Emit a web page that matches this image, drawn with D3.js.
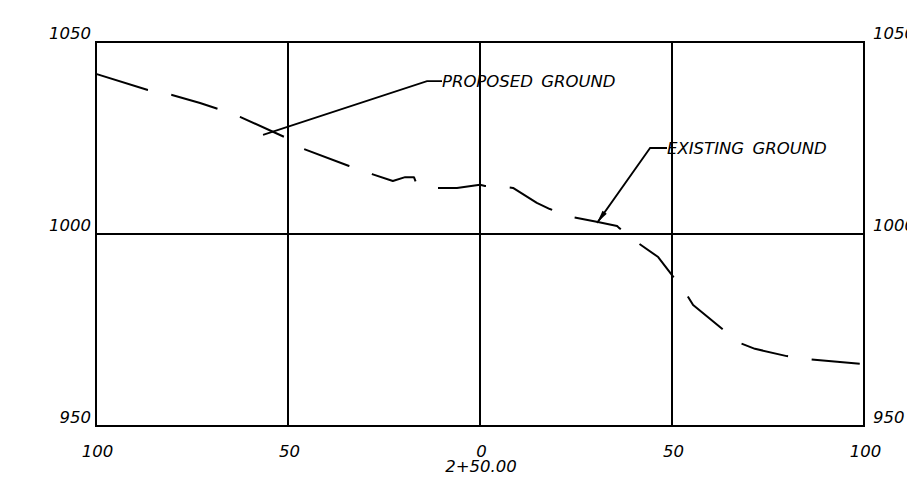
<!DOCTYPE html>
<html>
<head>
<meta charset="utf-8">
<script src="https://cdn.jsdelivr.net/npm/d3@7"></script>
<style>
  html, body { margin: 0; padding: 0; background: #fff; }
  svg { display: block; }
  text { font-family: "DejaVu Sans", sans-serif; font-style: italic; font-size: 16.5px; fill: #000; }
</style>
</head>
<body>
<svg id="chart" width="907" height="477"></svg>
<script>
// ---- data ----
const offsetTicks = [-100, -50, 0, 50, 100];
const elevationTicks = [950, 1000, 1050];
const stationLabel = "2+50.00";

// ground profile (offset from centreline, elevation)
const groundOffsets = [-100, -86.5, -80.2, -72.9, -68.2, -62.5, -51.0, -45.8, -34.1, -28.1, -22.7, -19.5, -17.2, -16.7,
  -11.5, -6.0, 0, 1.3, 7.0, 8.6, 14.8, 18.2, 24.0, 30.7, 35.7, 36.2, 41.1, 46.4, 50.0, 53.9, 55.5, 62.8, 67.7, 71.6,
  79.9, 85.7, 100];
const groundElevations = [1041.7, 1037.5, 1036.2, 1034.1, 1032.55, 1030.5, 1025.3, 1022.1, 1017.7, 1015.6, 1013.8, 1014.8, 1014.8, 1013.5,
  1012.0, 1012.0, 1012.8, 1012.5, 1012.2, 1012.0, 1008.1, 1006.5, 1004.4, 1003.1, 1002.1, 1001.6, 997.7, 994.0, 989.3, 984.1, 981.5, 975.5, 971.6, 970.1,
  968.2, 967.4, 966.1];

// annotation leaders
const noteLabels = ["PROPOSED GROUND", "EXISTING GROUND"];
const noteTipOffsets = [-56.5, 30.5];
const noteTipElevations = [1025.8, 1002.9];
const noteElbowOffsets = [-13.8, 44.3];
const noteElbowElevations = [1039.8, 1022.4];
const noteEndOffsets = [-9.9, 48.7];
const noteArrow = [false, true];

// ---- drawing ----
const svg = d3.select("#chart");
const x = d3.scaleLinear().domain([-100, 100]).range([96, 864]);
const y = d3.scaleLinear().domain([950, 1050]).range([426, 42]);

const grid = svg.append("g").attr("stroke", "#000").attr("stroke-width", 2).attr("fill", "none");
grid.selectAll("line.v").data(offsetTicks).join("line")
  .attr("class", "v")
  .attr("x1", d => x(d)).attr("x2", d => x(d))
  .attr("y1", y(1050)).attr("y2", y(950));
grid.selectAll("line.h").data(elevationTicks).join("line")
  .attr("class", "h")
  .attr("x1", x(-100) - 1).attr("x2", x(100) + 1)
  .attr("y1", d => y(d)).attr("y2", d => y(d));

// elevation labels left and right
svg.append("g").selectAll("text").data(elevationTicks).join("text")
  .attr("x", x(-100) - 5).attr("y", d => y(d) - 3)
  .attr("text-anchor", "end").text(d => d);
svg.append("g").selectAll("text").data(elevationTicks).join("text")
  .attr("x", x(100) + 9).attr("y", d => y(d) - 3)
  .attr("text-anchor", "start").text(d => d);

// offset labels
svg.append("g").selectAll("text").data(offsetTicks).join("text")
  .attr("x", d => x(d) + 1.5).attr("y", y(950) + 31)
  .attr("text-anchor", "middle").text(d => Math.abs(d));
svg.append("text").attr("x", x(0) + 1).attr("y", y(950) + 46)
  .attr("text-anchor", "middle").text(stationLabel);

// ground line
const groundData = groundOffsets.map((o, i) => [o, groundElevations[i]]);
const line = d3.line().x(d => x(d[0])).y(d => y(d[1]));
const path = svg.append("path").datum(groundData)
  .attr("d", line)
  .attr("fill", "none").attr("stroke", "#000").attr("stroke-width", 2)
  .attr("stroke-linejoin", "round");
const total = path.node().getTotalLength();
const dashes = [54.4];
let acc = 54.4;
while (acc < total) { dashes.push(23.8, 48.3); acc += 72.1; }
path.attr("stroke-dasharray", dashes.join(" "));

// leaders
noteLabels.forEach((label, i) => {
  const tx = x(noteTipOffsets[i]), ty = y(noteTipElevations[i]);
  const ex = x(noteElbowOffsets[i]), ey = y(noteElbowElevations[i]);
  const nx = x(noteEndOffsets[i]);
  svg.append("path")
    .attr("d", `M${tx},${ty}L${ex},${ey}L${nx},${ey}`)
    .attr("fill", "none").attr("stroke", "#000").attr("stroke-width", 1.8);
  if (noteArrow[i]) {
    const dx = ex - tx, dy = ey - ty, len = Math.hypot(dx, dy);
    const ux = dx / len, uy = dy / len;
    const bx = tx + ux * 13, by = ty + uy * 13;
    const px = -uy * 2.6, py = ux * 2.6;
    svg.append("path")
      .attr("d", `M${tx},${ty}L${bx + px},${by + py}L${bx - px},${by - py}Z`)
      .attr("fill", "#000");
  }
  svg.append("text").attr("x", nx).attr("y", ey + 6)
    .attr("word-spacing", "3px")
    .text(label);
});
</script>
</body>
</html>
